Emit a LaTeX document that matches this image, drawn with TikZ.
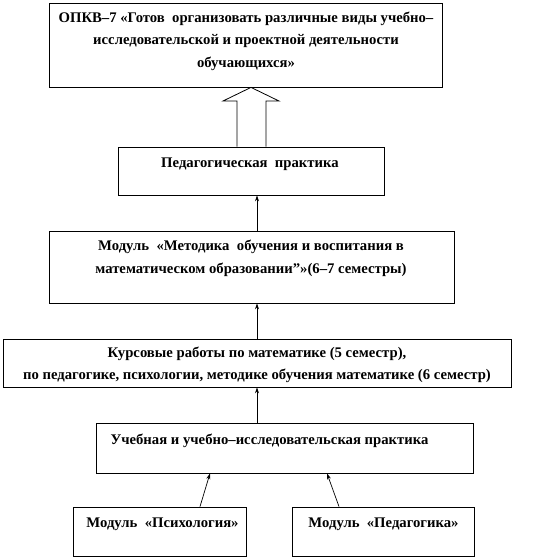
\documentclass[tikz,border=0pt]{standalone}
\usepackage{fontspec}
\setmainfont{Liberation Serif}
\usetikzlibrary{arrows.meta}
\begin{document}
\begin{tikzpicture}[x=1pt,y=-1pt,
  box/.style={draw,line width=0.8pt,rectangle,inner sep=0pt},
  lbl/.style={font=\fontsize{14.7}{22.5}\selectfont\bfseries,align=center,inner sep=0pt},
  arr/.style={line width=0.7pt,-{Stealth[length=6pt,width=4pt]}}]
\useasboundingbox (0,0) rectangle (543,558);
% boxes
\node[box,minimum width=393pt,minimum height=84pt] (b1) at (245.5,45) {};
\node[box,minimum width=266pt,minimum height=48pt] (b2) at (251,171) {};
\node[box,minimum width=405pt,minimum height=72pt] (b3) at (251.5,267) {};
\node[box,minimum width=508pt,minimum height=48pt] (b4) at (257,363) {};
\node[box,minimum width=377pt,minimum height=50pt] (b5) at (284.5,448) {};
\node[box,minimum width=173pt,minimum height=49pt] (b6) at (159.5,531.5) {};
\node[box,minimum width=182pt,minimum height=49pt] (b7) at (383,531.5) {};
% texts
\node[lbl] (t1) at (246,41) {ОПКВ–7 «Готов\ \ организовать различные виды учебно–\\исследовательской и проектной деятельности\\обучающихся»};
\node[lbl] (t2) at (250,164) {Педагогическая\ \ практика};
\node[lbl] (t3) at (251,258.5) {Модуль\ \ «Методика\ \ обучения и воспитания в\\математическом образовании"»(6–7 семестры)};
\node[lbl] (t4) at (257,365) {Курсовые работы по математике (5 семестр),\\по педагогике, психологии, методике обучения математике (6 семестр)};
\node[lbl] (t5) at (269.5,441) {Учебная и учебно–исследовательская практика};
\node[lbl] (t6) at (162.5,524) {Модуль\ \ «Психология»};
\node[lbl] (t7) at (383.5,524) {Модуль\ \ «Педагогика»};
% connectors
\coordinate (ax) at (257,0);
\coordinate (p1) at (200,0);
\coordinate (q1) at (210,0);
\coordinate (p2) at (339,0);
\coordinate (q2) at (327,0);
\draw[line width=0.8pt] (b2.north -| 237,0) -- (237,101) -- (223,101) -- (b1.south -| 251,0) -- (279,101) -- (266,101) -- (b2.north -| 266,0);
\draw[arr] (b3.north -| ax) -- (b2.south -| ax);
\draw[arr] (b4.north -| ax) -- (b3.south -| ax);
\draw[arr] (b5.north -| ax) -- (b4.south -| ax);
\draw[arr] (b6.north -| p1) -- (b5.south -| q1);
\draw[arr] (b7.north -| p2) -- (b5.south -| q2);
\end{tikzpicture}
\end{document}
